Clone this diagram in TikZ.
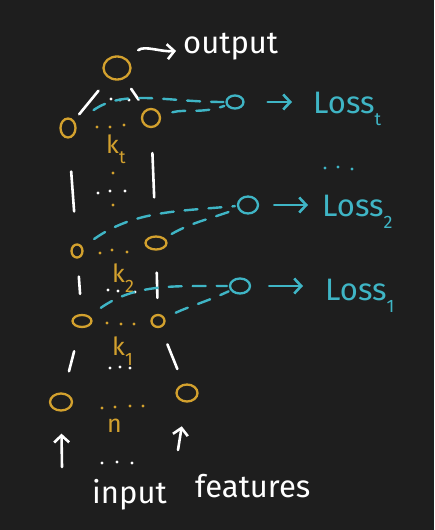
\documentclass[tikz,border=0pt]{standalone}
\usepackage{fontspec}
\setmainfont{Fira Sans}
\usetikzlibrary{arrows.meta,positioning,shapes.geometric}
\definecolor{board}{HTML}{1E1E1E}
\definecolor{unitgold}{HTML}{D3A12E}
\definecolor{losscyan}{HTML}{3FB5C5}
\tikzset{
  unit/.style={ellipse, draw=unitgold, line width=2.3pt, inner sep=0pt, minimum width=16pt, minimum height=16pt},
  lossunit/.style={ellipse, draw=losscyan, line width=2.3pt, inner sep=0pt, minimum width=18pt, minimum height=15pt},
  wire/.style={white, line width=2.6pt, line cap=round},
  lossline/.style={losscyan, line width=2.4pt, line cap=round, dash pattern=on 13pt off 11pt},
  hand/.style={line width=2.6pt, line cap=round, -{Straight Barb[length=7pt, width=15pt]}},
  klabel/.style={text=unitgold, font=\fontsize{25}{28}\selectfont, anchor=base west, inner sep=0pt},
  losslabel/.style={text=losscyan, font=\fontsize{31}{34}\selectfont, anchor=base west, inner sep=0pt},
  note/.style={text=white, font=\fontsize{31}{34}\selectfont, anchor=base west, inner sep=0pt}
}
\newcommand{\sub}[1]{\raisebox{-0.4em}{\fontsize{18}{18}\selectfont #1}}

\begin{document}
\begin{tikzpicture}[x=1pt, y=-1pt]
    \fill[board] (0,0) rectangle (434,530);

    % units, top to bottom
    \node[unit, minimum width=27pt, minimum height=23pt] (top) at (117,68) {};
    \node[unit, minimum width=15pt, minimum height=19pt] (tl) at (68,128) {};
    \node[unit, minimum width=18pt, minimum height=18pt] (tr) at (151,118) {};
    \node[unit, minimum width=11pt, minimum height=13pt] (ml) at (77,251) {};
    \node[unit, minimum width=21pt, minimum height=13pt] (mr) at (156,243) {};
    \node[unit, minimum width=19pt, minimum height=12pt] (bl) at (82,321) {};
    \node[unit, minimum width=13pt, minimum height=12pt] (br) at (158,321) {};
    \node[unit, minimum width=22pt, minimum height=17pt] (il) at (61,402) {};
    \node[unit, minimum width=21pt, minimum height=17pt] (ir) at (187,393) {};

    % dots
    \foreach \x/\y in {111/99, 120/100, 129/100, 98/193, 110/191, 125/191,
                       108/290, 118/291, 135/292, 110/368, 120/367, 130/368,
                       102/463, 117/462, 132/463}
      \fill[white] (\x,\y) circle (1.6pt);
    \foreach \x/\y in {97/127, 110/127, 124/125, 113/173, 113/205,
                       100/253, 112/250, 127/252, 107/323, 121/324, 134/324,
                       102/408, 115/407, 130/406, 143/406}
      \fill[unitgold] (\x,\y) circle (1.6pt);
    \foreach \x/\y in {325/168, 338/167, 352/169}
      \fill[losscyan] (\x,\y) circle (1.6pt);

    % layer sizes
    \node[klabel] (kt) at (106,153) {k\sub{t}};
    \node[klabel] (k2) at (112,282) {k\sub{2}};
    \node[klabel] (k1) at (112,355) {k\sub{1}};
    \node[klabel] (n) at (107,432) {n};

    % white connections
    \draw[wire] (tl) -- (top) [shorten <=8pt, shorten >=16pt];
    \draw[wire] (top) -- (tr) [shorten <=12pt, shorten >=12pt];
    \draw[wire] (tl) -- (ml) [shorten <=33pt, shorten >=32pt];
    \draw[wire] (tr) -- (mr) [shorten <=25pt, shorten >=38pt];
    \draw[wire] (ml) -- (bl) [shorten <=18pt, shorten >=20pt];
    \draw[wire] (mr) -- (br) [shorten <=22pt, shorten >=16pt];
    \draw[wire] (bl) -- (il) [shorten <=24pt, shorten >=22pt];
    \draw[wire] (br) -- (ir) [shorten <=18pt, shorten >=16pt];

    % output and inputs
    \node[note] (output) at (183,53) {output};
    \draw[wire, hand] (top) to[out=40, in=185] (output) [shorten <=14pt, shorten >=7pt];
    \node[note] (input) at (92,503) {input};
    \node[note] (features) at (195,497) {features};
    \coordinate (inl) at (62,467);
    \coordinate (inr) at (178,450);
    \draw[wire, hand] (inl) -- (il) [shorten >=22pt];
    \draw[wire, hand] (inr) -- (ir) [shorten >=24pt];

    % losses
    \node[lossunit, minimum width=17pt, minimum height=13pt] (lt) at (235,102) {};
    \node[lossunit, minimum width=20pt, minimum height=17pt] (l2) at (248,205) {};
    \node[lossunit, minimum width=20pt, minimum height=15pt] (l1) at (240,286) {};
    \node[losslabel] (losst) at (313,113) {Loss\sub{t}};
    \node[losslabel] (loss2) at (322,216) {Loss\sub{2}};
    \node[losslabel] (loss1) at (325,300) {Loss\sub{1}};

    \draw[lossline] (tl) to[out=35, in=180] (lt) [shorten <=22pt, shorten >=2pt];
    \draw[lossline] (tr) to[out=15, in=200] (lt) [shorten <=12pt, shorten >=2pt];
    \draw[lossline] (ml) to[out=35, in=185] (l2) [shorten <=14pt, shorten >=2pt];
    \draw[lossline] (mr) to[out=30, in=200] (l2) [shorten <=8pt, shorten >=2pt];
    \draw[lossline] (bl) to[out=35, in=180] (l1) [shorten <=14pt, shorten >=2pt];
    \draw[lossline] (br) to[out=25, in=205] (l1) [shorten <=12pt, shorten >=2pt];
    \draw[hand, losscyan] (lt.east) -- (lt.east -| losst.west) [shorten <=23pt, shorten >=21pt];
    \draw[hand, losscyan] (l2.east) -- (l2.east -| loss2.west) [shorten <=15pt, shorten >=14pt];
    \draw[hand, losscyan] (l1.east) -- (l1.east -| loss1.west) [shorten <=18pt, shorten >=22pt];
\end{tikzpicture}
\end{document}
